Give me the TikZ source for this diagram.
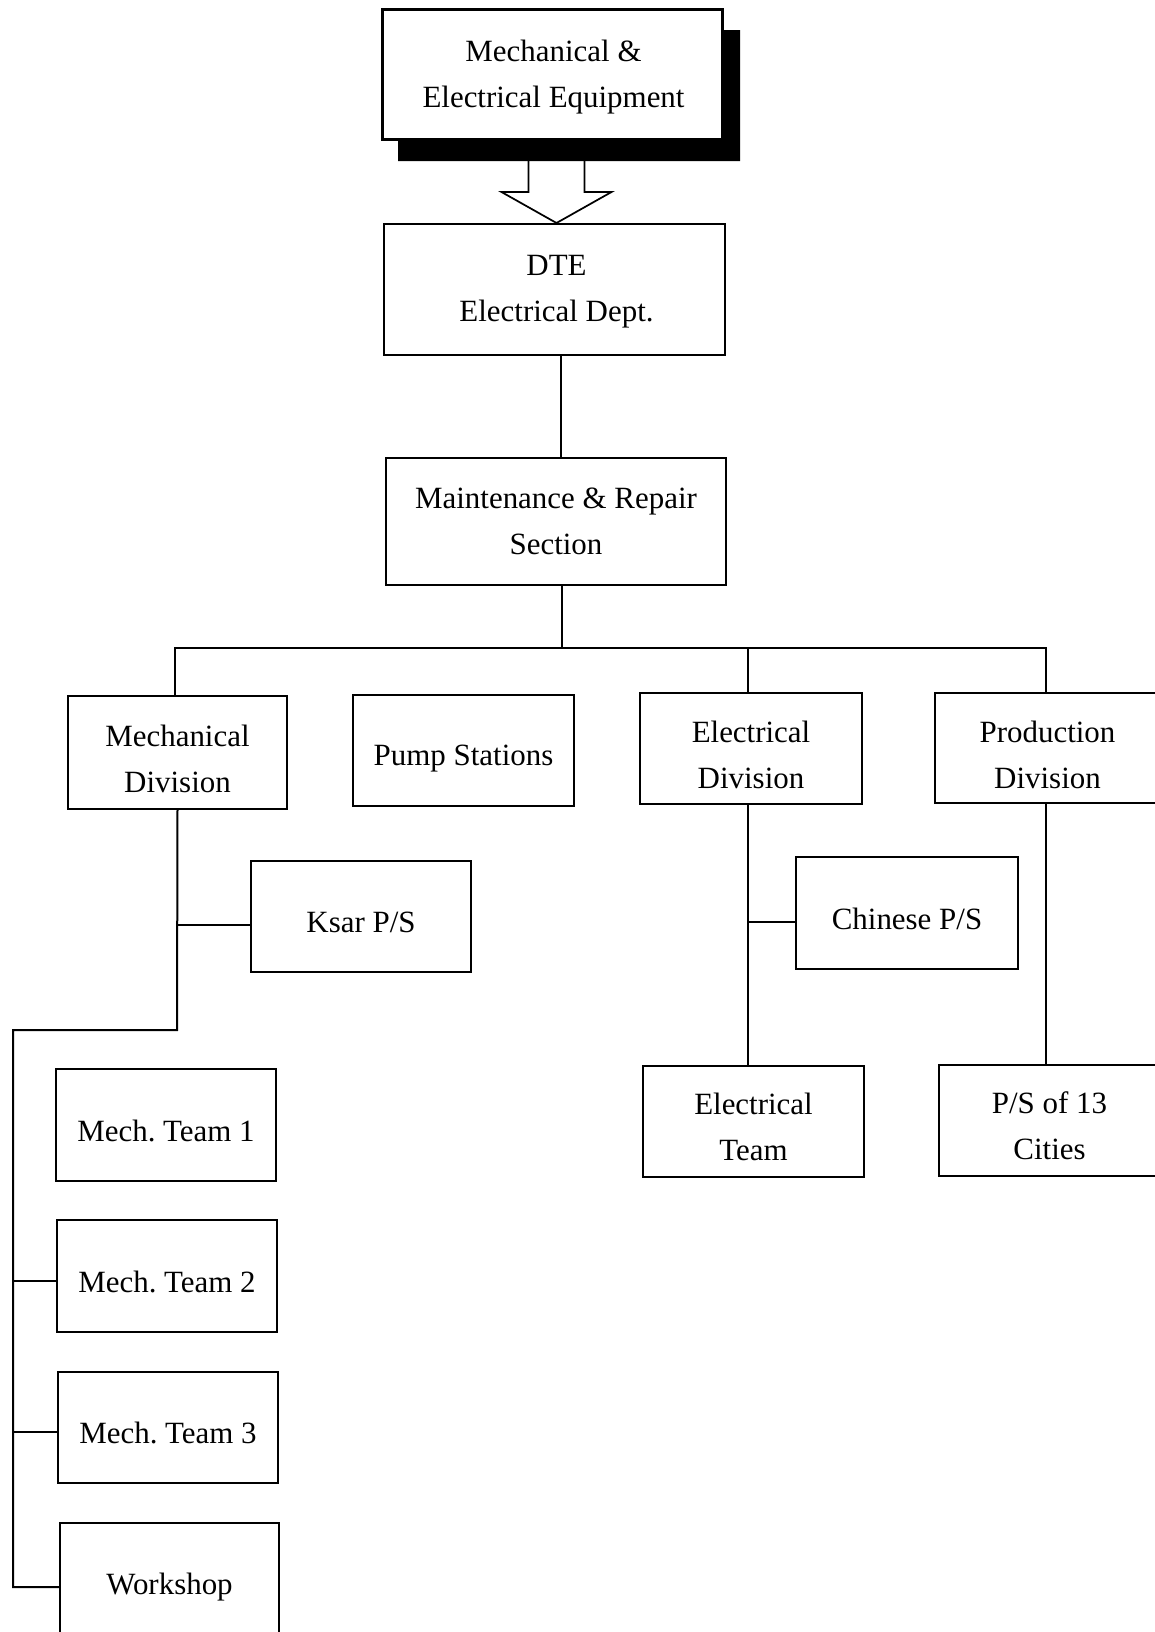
\documentclass[tikz,border=0pt]{standalone}
\usepackage{fontspec}
\setmainfont{Liberation Serif}
\usetikzlibrary{calc}
\begin{document}
\begin{tikzpicture}[x=0.75pt,y=-0.75pt,
  box/.style={draw, line width=1.5pt, fill=white, inner sep=0pt},
  txt/.style={inner sep=0pt, align=center, font=\fontsize{23.2}{34.5}\selectfont},
  conn/.style={line width=1.5pt},
  hollow/.style={line width=1.3pt, fill=white, line join=miter}]
\useasboundingbox (0,0) rectangle (1154,1632);

% boxes
\node[box, minimum width=255.75pt, minimum height=98.25pt] (dte) at (554.5,289.5) {};
\coordinate (tip) at ($(dte.north)+(2,0)$);
\draw[hollow] ($(tip)+(-28,-64)$) -- ($(tip)+(-28,-31)$) -- ($(tip)+(-55,-31)$) -- (tip)
  -- ($(tip)+(55,-31)$) -- ($(tip)+(28,-31)$) -- ($(tip)+(28,-64)$);
\node[box, minimum width=254.25pt, minimum height=96.75pt] (top) at (552.5,74.5) {};
\fill ($(top.north east)+(0,21)$) -- ($(top.north east)+(17,21)$) -- ($(top.south east)+(17,21)$)
  -- ($(top.south west)+(16,21)$) -- ($(top.south west)+(16,0)$) -- (top.south east) -- cycle;
\draw[line width=1.5pt] (top.north west) rectangle (top.south east);

\node[box, minimum width=255pt, minimum height=95.25pt] (maint) at (556,521.5) {};

\node[box, minimum width=164.25pt, minimum height=84.75pt] (mech) at (177.5,752.5) {};
\node[box, minimum width=165.75pt, minimum height=83.25pt] (pump) at (463.5,750.5) {};
\node[box, minimum width=166.5pt, minimum height=83.25pt] (elec) at (751,748.5) {};
\node[box, minimum width=168.75pt, minimum height=82.5pt] (prod) at (1047.5,748) {};

\node[box, minimum width=165pt, minimum height=83.25pt] (ksar) at (361,916.5) {};
\node[box, minimum width=166.5pt, minimum height=84pt] (chinese) at (907,913) {};
\node[box, minimum width=165.75pt, minimum height=83.25pt] (eteam) at (753.5,1121.5) {};
\node[box, minimum width=165.75pt, minimum height=83.25pt] (ps13) at (1049.5,1120.5) {};

\node[box, minimum width=165pt, minimum height=84pt] (mt1) at (166,1125) {};
\node[box, minimum width=165pt, minimum height=84pt] (mt2) at (167,1276) {};
\node[box, minimum width=165pt, minimum height=83.25pt] (mt3) at (168,1427.5) {};
\node[box, minimum width=164.25pt, minimum height=96pt] (ws) at (169.5,1587) {};

% texts
\node[txt] (top-t) at ($(top)+(1,3)$) {Mechanical \&\\Electrical Equipment};
\node[txt] (dte-t) at ($(dte)+(2,2)$) {DTE\\Electrical Dept.};
\node[txt] (maint-t) at ($(maint)+(0,0)$) {Maintenance \& Repair\\Section};
\node[txt] (mech-t) at ($(mech)+(0,6.5)$) {Mechanical\\Division};
\node[txt] (pump-t) at ($(pump)+(0,8)$) {Pump Stations};
\node[txt] (elec-t) at ($(elec)+(0,6.5)$) {Electrical\\Division};
\node[txt] (prod-t) at ($(prod)+(0,6.5)$) {Production\\Division};
\node[txt] (ksar-t) at ($(ksar)+(0,5.5)$) {Ksar P/S};
\node[txt] (chinese-t) at ($(chinese)+(0,5.5)$) {Chinese P/S};
\node[txt] (eteam-t) at ($(eteam)+(0,5.5)$) {Electrical\\Team};
\node[txt] (ps13-t) at ($(ps13)+(0,5.5)$) {P/S of 13\\Cities};
\node[txt] (mt1-t) at ($(mt1)+(0,5.5)$) {Mech.\ Team 1};
\node[txt] (mt2-t) at ($(mt2)+(0,5.5)$) {Mech.\ Team 2};
\node[txt] (mt3-t) at ($(mt3)+(0,5.5)$) {Mech.\ Team 3};
\node[txt] (ws-t) at ($(ws)+(0,0)$) {Workshop};

% connectors
\coordinate (busy) at (0,648);
\draw[conn] ($(dte.south)+(6,0)$) -- ($(dte.south |- maint.north)+(6,0)$);
\draw[conn] ($(maint.south)+(6,0)$) -- ($(maint.south |- busy)+(6,0)$);
\draw[conn] ($(mech.north)+(-3,0)$) -- ($(mech.north |- busy)+(-3,0)$) -- ($(prod.north |- busy)+(-2,0)$) -- ($(prod.north)+(-2,0)$);
\draw[conn] ($(elec.north)+(-3,0)$) -- ($(elec.north |- busy)+(-3,0)$);

% mechanical branch
\coordinate (mk) at (177,925);
\coordinate (mturn) at (177,1030);
\coordinate (lrail) at (13,1030);
\draw[conn] (mech.south) -- (mturn) -- (lrail) -- (lrail |- ws.west) -- (ws.west);
\draw[conn] (mk) -- (ksar.west |- mk);
\coordinate (m2) at (13,1281);
\coordinate (m3) at (13,1432);
\draw[conn] (m2) -- (mt2.west |- m2);
\draw[conn] (m3) -- (mt3.west |- m3);

% electrical branch
\coordinate (ek) at (748,922);
\draw[conn] ($(elec.south)+(-3,0)$) -- ($(elec.south |- eteam.north)+(-3,0)$);
\draw[conn] (ek) -- (chinese.west |- ek);

% production branch
\draw[conn] ($(prod.south)+(-2,0)$) -- ($(prod.south |- ps13.north)+(-2,0)$);
\end{tikzpicture}
\end{document}
